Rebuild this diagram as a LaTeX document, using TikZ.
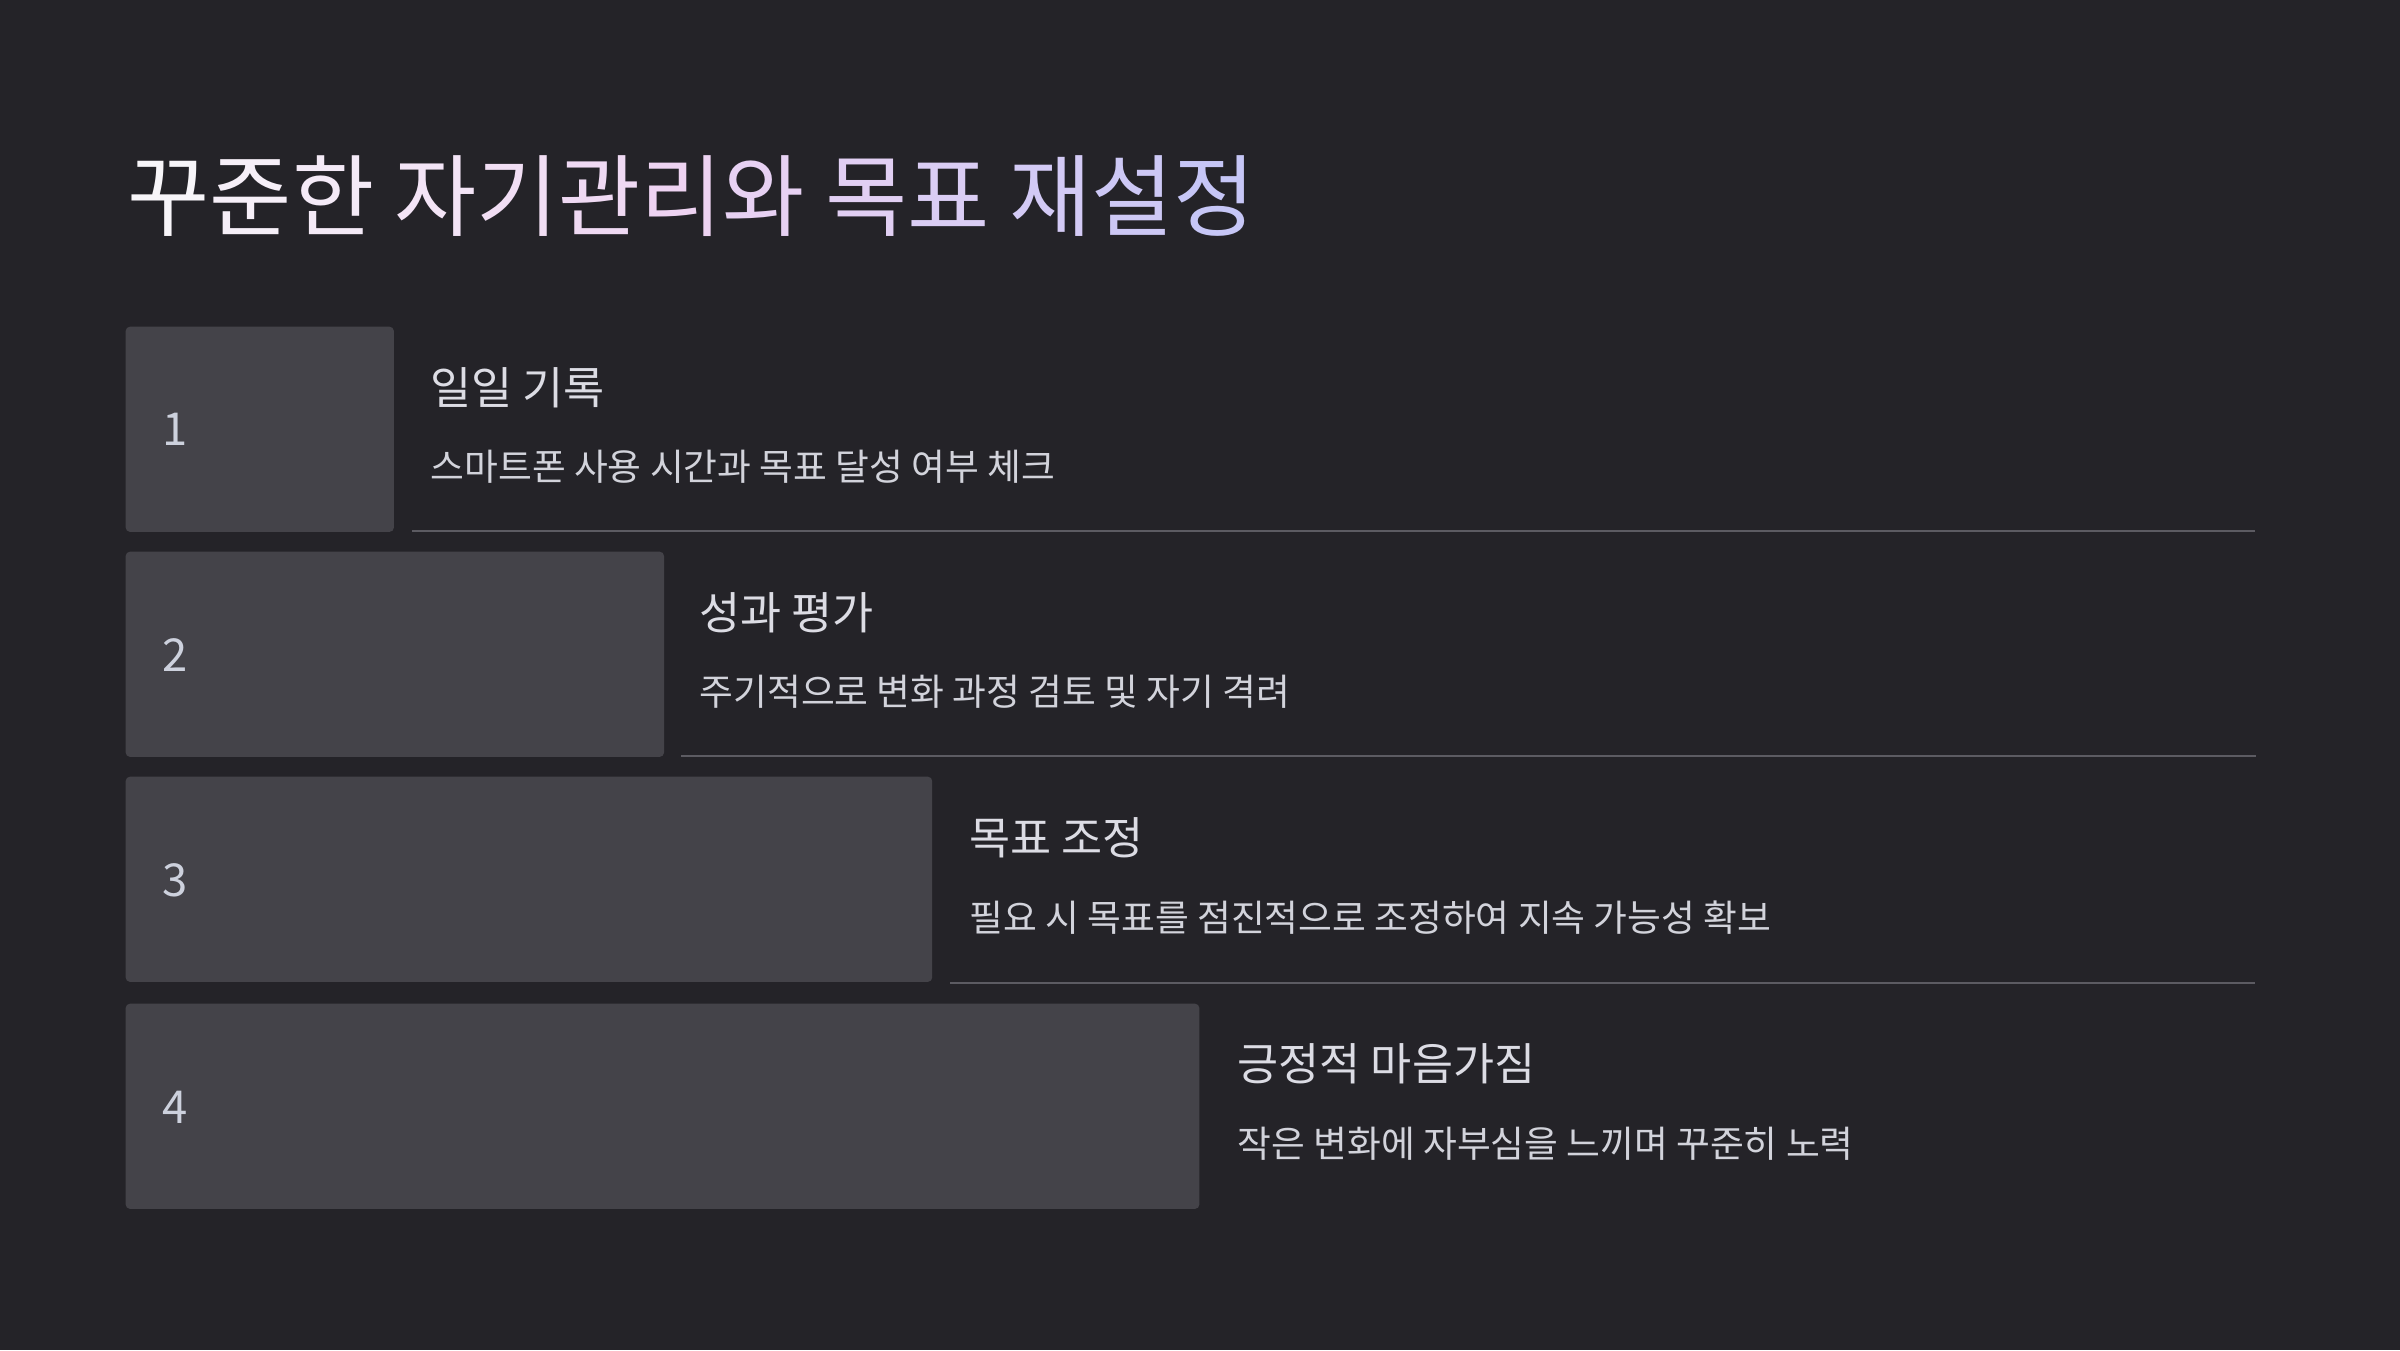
\documentclass[tikz,border=0pt]{standalone}
\usepackage{fontspec}
\setmainfont{Noto Sans CJK KR}
\definecolor{bg}{HTML}{242328}
\definecolor{boxc}{HTML}{444349}
\definecolor{linec}{HTML}{5C5B62}
\definecolor{headc}{HTML}{DCDCE4}
\definecolor{descc}{HTML}{D2D3DB}
\definecolor{numc}{HTML}{CDD1DD}
\definecolor{tA}{HTML}{F7F5F9}
\definecolor{tB}{HTML}{EED3F2}
\definecolor{tC}{HTML}{C6C6F6}
\tikzset{
  stepbox/.style={fill=boxc, rounded corners=1.2pt, anchor=north west, minimum height=2.05cm, inner sep=0pt},
  numtxt/.style={anchor=west, inner sep=0pt, text=numc, font=\fontsize{12.9}{15}\selectfont},
  headtxt/.style={anchor=west, inner sep=0pt, text=headc, font=\fontsize{12.7}{15}\selectfont},
  desctxt/.style={anchor=west, inner sep=0pt, text=descc, font=\fontsize{10.45}{13}\selectfont},
  sepline/.style={draw=linec, line width=0.6pt},
}
\begin{document}
\begin{tikzpicture}[x=0.01cm,y=-0.01cm]
\fill[bg] (0,0) rectangle (2400,1350);
\useasboundingbox (0,0) rectangle (2400,1350);

\node[anchor=base west, inner sep=0pt, font=\fontsize{25.4}{30}\selectfont] (title) at (127,229)
{\textcolor{tA}{꾸}\textcolor{tB!17!tA}{준}\textcolor{tB!33!tA}{한} \textcolor{tB!50!tA}{자}\textcolor{tB!67!tA}{기}\textcolor{tB!83!tA}{관}\textcolor{tB}{리}\textcolor{tC!17!tB}{와} \textcolor{tC!33!tB}{목}\textcolor{tC!50!tB}{표} \textcolor{tC!67!tB}{재}\textcolor{tC!83!tB}{설}\textcolor{tC}{정}};

% row 1
\node[stepbox, minimum width=2.68cm] (b1) at (125,326) {};
\node[numtxt] (n1) at (162,429.5) {1};
\node[headtxt] (h1) at (430,388) {일일 기록};
\node[desctxt] (d1) at (430,467) {스마트폰 사용 시간과 목표 달성 여부 체크};
\coordinate (e1) at (2255,531);
\draw[sepline] (412,531) -- (e1);

% row 2
\node[stepbox, minimum width=5.38cm] (b2) at (125,551) {};
\node[numtxt] (n2) at (162,655) {2};
\node[headtxt] (h2) at (699,613) {성과 평가};
\node[desctxt] (d2) at (699,692) {주기적으로 변화 과정 검토 및 자기 격려};
\coordinate (e2) at (2256,756);
\draw[sepline] (681,756) -- (e2);

% row 3
\node[stepbox, minimum width=8.06cm] (b3) at (125,776) {};
\node[numtxt] (n3) at (162,880.5) {3};
\node[headtxt] (h3) at (969,838) {목표 조정};
\node[desctxt] (d3) at (969,918) {필요 시 목표를 점진적으로 조정하여 지속 가능성 확보};
\coordinate (e3) at (2255,983);
\draw[sepline] (950,983) -- (e3);

% row 4
\node[stepbox, minimum width=10.73cm] (b4) at (125,1003) {};
\node[numtxt] (n4) at (162,1107) {4};
\node[headtxt] (h4) at (1237,1064) {긍정적 마음가짐};
\node[desctxt] (d4) at (1237,1144) {작은 변화에 자부심을 느끼며 꾸준히 노력};
\end{tikzpicture}
\end{document}
